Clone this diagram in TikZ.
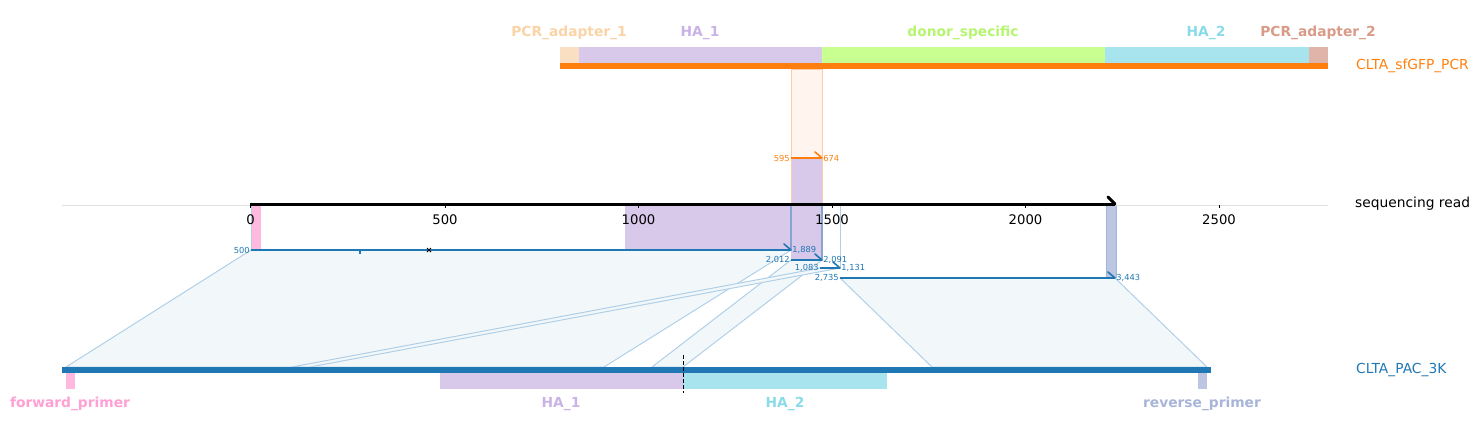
\documentclass[tikz,border=0pt]{standalone}
\usepackage{fontspec}
\setmainfont{DejaVu Sans}
\definecolor{cOrange}{HTML}{FF7F0E}
\definecolor{cBlue}{HTML}{1F77B4}
\definecolor{fPA1}{HTML}{FADFC2}\definecolor{lPA1}{HTML}{FAD3A6}
\definecolor{fHA1}{HTML}{D8C8EA}\definecolor{lHA1}{HTML}{C9B3E6}
\definecolor{fDS}{HTML}{C8FF90}\definecolor{lDS}{HTML}{B5F56F}
\definecolor{fHA2}{HTML}{A8E4EE}\definecolor{lHA2}{HTML}{8ADBE8}
\definecolor{fPA2}{HTML}{E0B4A8}\definecolor{lPA2}{HTML}{D99A88}
\definecolor{fFP}{HTML}{FFB8DE}\definecolor{lFP}{HTML}{FF9FD3}
\definecolor{fRP}{HTML}{BCC6E2}\definecolor{lRP}{HTML}{A8B5D8}
\definecolor{polyFill}{HTML}{F2F7FA}\definecolor{polyEdge}{HTML}{B0D0E8}
\definecolor{colFill}{HTML}{FFF5EE}\definecolor{colEdge}{HTML}{FFCCA8}
\definecolor{axisGray}{HTML}{E0E0E0}
\begin{document}
\begin{tikzpicture}[x=1pt,y=-1pt,
  featlabel/.style={font=\fontsize{13.8}{15}\selectfont\bfseries, inner sep=0pt},
  seqlabel/.style={font=\fontsize{13.8}{15}\selectfont, anchor=west, inner sep=0pt},
  ticklabel/.style={font=\fontsize{13.2}{14}\selectfont, inner sep=0pt},
  poslabel/.style={font=\fontsize{8.3}{9}\selectfont, inner sep=1.2pt},
  alnpoly/.style={fill=polyFill, draw=polyEdge, line width=1pt},
  alnline/.style={draw=cBlue, line width=1.6pt},
  colline/.style={draw=polyEdge, line width=1pt},
  hookend/.style={line width=1.6pt, line cap=round}
]
\useasboundingbox (0,0) rectangle (1481,437);

% ---------- coordinates ----------
\coordinate (a1l) at (251,250); \coordinate (a1r) at (791,250);
\coordinate (a2l) at (791,260); \coordinate (a2r) at (822,260);
\coordinate (a3l) at (820,268); \coordinate (a3r) at (840,268);
\coordinate (a4l) at (840,278); \coordinate (a4r) at (1115,278);
\coordinate (b1l) at (66,367);  \coordinate (b1r) at (604,367);
\coordinate (b2l) at (652,367); \coordinate (b2r) at (683,367);
\coordinate (b3l) at (292,367); \coordinate (b3r) at (310,367);
\coordinate (b4l) at (932,367); \coordinate (b4r) at (1207,367);
\coordinate (t0l) at (791,158); \coordinate (t0r) at (822,158);
\coordinate (p0l) at (791,69);  \coordinate (p0r) at (822,69);

% ---------- alignment polygons ----------
\path[alnpoly] (a1l) -- (a1r) -- (b1r) -- (b1l) -- cycle;
\path[alnpoly] (a2l) -- (a2r) -- (b2r) -- (b2l) -- cycle;
\path[alnpoly] (a3l) -- (a3r) -- (b3r) -- (b3l) -- cycle;
\path[alnpoly] (a4l) -- (a4r) -- (b4r) -- (b4l) -- cycle;

% top column
\path[fill=colFill, draw=colEdge, line width=0.9pt] (p0l) rectangle (822,205);
\fill[fHA1] (791,158) rectangle (822,205);
\draw[colEdge, line width=0.9pt] (791,158) -- (791,205) (822,158) -- (822,205);

% ---------- top sequence CLTA_sfGFP_PCR ----------
\fill[fPA1] (560,47) rectangle (579,63);
\fill[fHA1] (579,47) rectangle (822,63);
\fill[fDS]  (822,47) rectangle (1105,63);
\fill[fHA2] (1105,47) rectangle (1309,63);
\fill[fPA2] (1309,47) rectangle (1328,63);
\fill[cOrange] (560,63) rectangle (1328,69);
\node[featlabel, text=lPA1] (lblpa1) at (569,33) {PCR\_adapter\_1};
\node[featlabel, text=lHA1] (lblha1t) at (700,33) {HA\_1};
\node[featlabel, text=lDS]  (lblds) at (963,33) {donor\_specific};
\node[featlabel, text=lHA2] (lblha2t) at (1206,33) {HA\_2};
\node[featlabel, text=lPA2] (lblpa2) at (1318,33) {PCR\_adapter\_2};
\node[seqlabel, text=cOrange] (lbltop) at (1356,66) {CLTA\_sfGFP\_PCR};

% top alignment line
\draw[cOrange, line width=1.6pt] (t0l) -- (t0r);
\draw[cOrange, hookend] (t0r) -- ++(-7,-6);
\node[poslabel, anchor=east, text=cOrange] (n595) at (t0l) {595};
\node[poslabel, anchor=west, text=cOrange] (n674) at (t0r) {674};

% ---------- read features ----------
\fill[fFP] (251,205) rectangle (261,250);
\fill[fHA1] (625,205) rectangle (791,250);
\fill[fHA1] (791,205) rectangle (822,260);
\fill[fRP] (1106,205) rectangle (1116,278);
\draw[fRP!80!cBlue, line width=0.6pt] (1106,205) -- (1106,278) (1116,205) -- (1116,278);

% column edges
\draw[colline] (251,205) -- (a1l);
\draw[draw=cBlue!45!fHA1, line width=1.4pt] (791,205) -- (a1r);
\draw[draw=cBlue!45!fHA1, line width=1.4pt] (822,205) -- (a2r);
\draw[colline] (840,205) -- (a3r);

% ---------- axis ----------
\draw[axisGray, line width=0.8pt] (62,205) -- (1328,205);
\coordinate (ax0) at (250,204); \coordinate (ax1) at (1115,204);
\draw[black, line width=3pt] (ax0) -- (ax1);
\draw[black, line width=3pt, line cap=round] (ax1) -- ++(-7,-7);
\foreach \v/\x in {0/250.5,500/445,1000/638.5,1500/832,2000/1025.5,2500/1219}{
  \draw[black, line width=0.8pt] (\x,205) -- (\x,208);
  \node[ticklabel] (tick\v) at (\x,220) {\v};
}
\node[seqlabel, text=black] (lblread) at (1355,204) {sequencing read};

% ---------- alignment lines ----------
\draw[alnline] (a1l) -- (a1r);
\draw[cBlue, hookend] (a1r) -- ++(-7,-6);
\draw[alnline] (a2l) -- (a2r);
\draw[cBlue, hookend] (a2r) -- ++(-7,-6);
\draw[alnline] (a3l) -- (a3r);
\draw[cBlue, hookend] (a3r) -- ++(-7,-6);
\draw[alnline] (a4l) -- (a4r);
\draw[cBlue, hookend] (a4r) -- ++(-7,-6);
% marks
\draw[cBlue, line width=2pt] (360,250) -- (360,254);
\draw[black, line width=0.8pt] (427,248) -- (431,252) (427,252) -- (431,248);

\node[poslabel, anchor=east, text=cBlue] (n500) at (a1l) {500};
\node[poslabel, anchor=west, text=cBlue] (n1889) at (a1r) {1,889};
\node[poslabel, anchor=east, text=cBlue] (n2012) at (a2l) {2,012};
\node[poslabel, anchor=west, text=cBlue] (n2091) at (a2r) {2,091};
\node[poslabel, anchor=east, text=cBlue] (n1083) at (a3l) {1,083};
\node[poslabel, anchor=west, text=cBlue] (n1131) at (a3r) {1,131};
\node[poslabel, anchor=east, text=cBlue] (n2735) at (a4l) {2,735};
\node[poslabel, anchor=west, text=cBlue] (n3443) at (a4r) {3,443};

% ---------- bottom sequence CLTA_PAC_3K ----------
\fill[cBlue] (62,367) rectangle (1211,373);
\fill[fFP] (66,373) rectangle (75,389);
\fill[fHA1] (440,373) rectangle (683,389);
\fill[fHA2] (683,373) rectangle (887,389);
\fill[fRP] (1198,373) rectangle (1207,389);
\draw[black, line width=1pt, dashed, dash pattern=on 4pt off 2pt] (683,355) -- (683,393);
\node[featlabel, text=lFP]  (lblfp) at (70,404) {forward\_primer};
\node[featlabel, text=lHA1] (lblha1b) at (561,404) {HA\_1};
\node[featlabel, text=lHA2] (lblha2b) at (785,404) {HA\_2};
\node[featlabel, text=lRP]  (lblrp) at (1202,404) {reverse\_primer};
\node[seqlabel, text=cBlue] (lblbot) at (1356,370) {CLTA\_PAC\_3K};
\end{tikzpicture}
\end{document}
